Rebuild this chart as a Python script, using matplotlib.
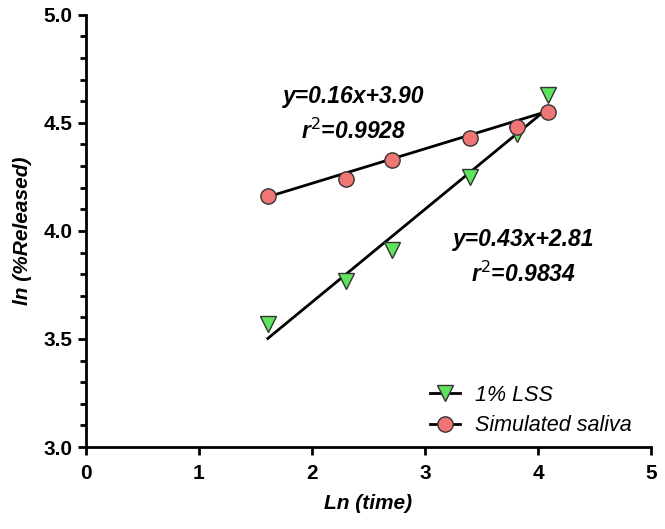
import numpy as np
import matplotlib.pyplot as plt
from matplotlib.ticker import MultipleLocator

plt.rcParams['font.family'] = ['Liberation Sans', 'DejaVu Sans']

# ln(time) values and ln(% released) for both media
ln_time = [1.61, 2.30, 2.71, 3.40, 3.81, 4.09]
lss = [3.57, 3.77, 3.91, 4.25, 4.45, 4.63]
saliva = [4.16, 4.24, 4.33, 4.43, 4.48, 4.55]

# fitted lines as printed on the chart
fit_lss = (0.43, 2.81, '0.9834')
fit_saliva = (0.16, 3.90, '0.9928')

fig = plt.figure(figsize=(6.65, 5.29), dpi=100)
ax = fig.add_axes([0.129, 0.155, 0.850, 0.817])

xf = np.array([min(ln_time), max(ln_time)])
ax.plot(xf, fit_lss[0] * xf + fit_lss[1], color='black', lw=2, zorder=2)
ax.plot(xf, fit_saliva[0] * xf + fit_saliva[1], color='black', lw=2, zorder=2)

ax.plot(ln_time, lss, 'v', ms=11, mfc='#5ee35e', mec='#333333', mew=1, zorder=3)
ax.plot(ln_time, saliva, 'o', ms=11, mfc='#f07575', mec='#333333', mew=1, zorder=3)

# legend proxies: line through marker
ax.plot([], [], 'v-', color='black', lw=2, ms=11, mfc='#5ee35e', mec='#333333', mew=1, label='1% LSS')
ax.plot([], [], 'o-', color='black', lw=2, ms=11, mfc='#f07575', mec='#333333', mew=1, label='Simulated saliva')
leg = ax.legend(loc='lower right', frameon=False, prop={'style': 'italic', 'size': 15.5},
                handlelength=1.4, handletextpad=0.7, bbox_to_anchor=(1.0, -0.02), labelspacing=0.45)

afont = dict(fontsize=16.5, fontweight='bold', style='italic', ha='center', va='center')
ax.text(2.37, 4.62, f'y={fit_saliva[0]:.2f}x+{fit_saliva[1]:.2f}', **afont)
ax.text(2.37, 4.46, f'r$^{{2}}$={fit_saliva[2]}', **afont)
ax.text(3.87, 3.96, f'y={fit_lss[0]:.2f}x+{fit_lss[1]:.2f}', **afont)
ax.text(3.87, 3.80, f'r$^{{2}}$={fit_lss[2]}', **afont)

ax.set_xlim(0, 5)
ax.set_ylim(3.0, 5.0)
ax.xaxis.set_major_locator(MultipleLocator(1))
ax.yaxis.set_major_locator(MultipleLocator(0.5))
ax.yaxis.set_minor_locator(MultipleLocator(0.1))
ax.yaxis.set_major_formatter(lambda v, p: f'{v:.1f}')

for s in ['top', 'right']:
    ax.spines[s].set_visible(False)
for s in ['left', 'bottom']:
    ax.spines[s].set_linewidth(2)
ax.tick_params(which='major', length=6, width=2, labelsize=15)
ax.tick_params(axis='x', pad=6)
ax.tick_params(which='minor', length=4, width=2)
for lab in ax.get_xticklabels() + ax.get_yticklabels():
    lab.set_fontweight('bold')

ax.set_xlabel('Ln (time)', fontsize=15, fontweight='bold', style='italic', labelpad=8)
ax.set_ylabel('ln (%Released)', fontsize=15, fontweight='bold', style='italic', labelpad=8)

fig.savefig('out.png', dpi=100)
